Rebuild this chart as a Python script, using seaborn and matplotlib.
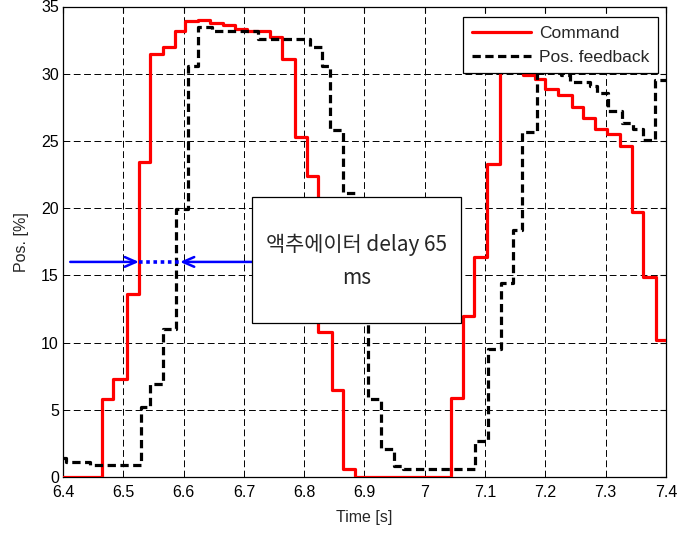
import matplotlib
matplotlib.use("Agg")
import matplotlib.pyplot as plt
import seaborn as sns
import pandas as pd
from matplotlib.patches import Rectangle

# ---- data ----
cmd_t = [6.400, 6.464, 6.483, 6.506, 6.526, 6.544, 6.566, 6.586, 6.603, 6.624,
         6.644, 6.666, 6.685, 6.705, 6.743, 6.763, 6.785, 6.804, 6.823, 6.846,
         6.864, 6.884, 7.043, 7.064, 7.082, 7.103, 7.124, 7.163, 7.183, 7.199,
         7.221, 7.244, 7.263, 7.282, 7.302, 7.324, 7.343, 7.362, 7.383, 7.400]
cmd_v = [0.0, 5.8, 7.3, 13.6, 23.4, 31.5, 32.0, 33.2, 33.9, 34.0,
         33.8, 33.6, 33.3, 33.2, 32.7, 31.1, 25.3, 22.4, 10.8, 6.5,
         0.57, 0.0, 5.85, 12.0, 16.4, 23.3, 31.5, 29.9, 29.6, 28.9,
         28.4, 27.5, 26.7, 25.9, 25.5, 24.6, 19.7, 14.9, 10.2, 10.2]

fb_t = [6.400, 6.405, 6.444, 6.530, 6.544, 6.566, 6.587, 6.608, 6.624, 6.647,
        6.724, 6.810, 6.829, 6.843, 6.864, 6.884, 6.906, 6.927, 6.949, 6.964,
        7.083, 7.105, 7.126, 7.147, 7.162, 7.186, 7.226, 7.241, 7.274, 7.285,
        7.304, 7.327, 7.346, 7.362, 7.382, 7.400]
fb_v = [1.4, 1.15, 0.9, 5.2, 6.9, 11.0, 19.9, 30.6, 33.5, 33.2,
        32.6, 32.0, 30.6, 25.8, 21.1, 16.0, 5.8, 2.1, 0.84, 0.57,
        2.7, 9.5, 14.4, 18.4, 25.7, 30.5, 29.9, 29.4, 29.1, 28.6,
        27.2, 26.3, 25.9, 25.1, 29.5, 29.5]

x_ticks = [6.4, 6.5, 6.6, 6.7, 6.8, 6.9, 7.0, 7.1, 7.2, 7.3, 7.4]
x_tick_labels = ["6.4", "6.5", "6.6", "6.7", "6.8", "6.9", "7", "7.1", "7.2", "7.3", "7.4"]
y_ticks = [0, 5, 10, 15, 20, 25, 30, 35]

# delay annotation values
arrow_level = 16.0
cmd_cross = 6.526
fb_cross = 6.594
arrow_left_start = 6.412
box_x0, box_x1 = 6.713, 7.060
box_y0, box_y1 = 11.45, 20.8
box_text1 = "액추에이터 delay 65"
box_text2 = "ms"

# ---- figure ----
sns.set_style("white")
plt.rcParams['font.family'] = ['Liberation Sans', 'DejaVu Sans']

fig = plt.figure(figsize=(6.88, 5.38), dpi=100)
ax = fig.add_axes([63/688, 1 - 477/538, 603/688, 470.5/538])

df_cmd = pd.DataFrame({"t": cmd_t, "v": cmd_v})
df_fb = pd.DataFrame({"t": fb_t, "v": fb_v})

sns.lineplot(data=df_cmd, x="t", y="v", ax=ax, color="#ff0000", lw=2.3,
             drawstyle="steps-post", label="Command", zorder=3)
sns.lineplot(data=df_fb, x="t", y="v", ax=ax, color="black", lw=2.3,
             linestyle=(0, (2.6, 1.4)), drawstyle="steps-post",
             label="Pos. feedback", zorder=4)

ax.set_xlim(6.4, 7.4)
ax.set_ylim(0, 35)
ax.set_xticks(x_ticks)
ax.set_xticklabels(x_tick_labels)
ax.set_yticks(y_ticks)
ax.tick_params(direction="in", length=4, width=0.8, labelsize=11.5,
               top=True, right=True, labelcolor="black", color="black")
ax.tick_params(axis="x", pad=6)
ax.tick_params(axis="y", pad=3)
for s in ax.spines.values():
    s.set_color("black")
    s.set_linewidth(0.9)

ax.grid(True, color="black", linestyle=(0, (7, 3.6)), linewidth=0.7)
ax.set_axisbelow(True)

ax.set_xlabel("Time [s]", fontsize=11.5, labelpad=7)
ax.set_ylabel("Pos. [%]", fontsize=11.5, labelpad=9)

# delay arrows
ax.annotate("", xy=(cmd_cross, arrow_level), xytext=(arrow_left_start, arrow_level),
            arrowprops=dict(arrowstyle="->,head_length=0.8,head_width=0.35",
                            color="#0000ff", lw=1.8, shrinkA=0, shrinkB=0), zorder=5)
ax.annotate("", xy=(fb_cross, arrow_level), xytext=(box_x0, arrow_level),
            arrowprops=dict(arrowstyle="->,head_length=0.8,head_width=0.35",
                            color="#0000ff", lw=1.8, shrinkA=0, shrinkB=0), zorder=5)
ax.plot([cmd_cross, fb_cross], [arrow_level, arrow_level], color="#0000ff",
        lw=2.6, linestyle=(0, (1, 1)), zorder=5)

# text box
ax.add_patch(Rectangle((box_x0, box_y0), box_x1 - box_x0, box_y1 - box_y0,
                       facecolor="white", edgecolor="black", lw=0.9, zorder=6))
xc = (box_x0 + box_x1) / 2
ax.text(xc, 17.25, box_text1, ha="center", va="center", fontsize=15,
        family=["Noto Sans CJK KR", "DejaVu Sans"], fontweight="light", zorder=7)
ax.text(xc, 14.8, box_text2, ha="center", va="center", fontsize=15,
        family=["Noto Sans CJK KR", "DejaVu Sans"], fontweight="light", zorder=7)

leg = ax.legend(loc="upper right", bbox_to_anchor=(595/603, 460/470.5),
                borderaxespad=0, fontsize=12.5, fancybox=False, framealpha=1,
                edgecolor="black", handlelength=3.4, borderpad=0.5,
                labelspacing=0.5, handletextpad=0.45)
leg.get_frame().set_linewidth(0.9)
leg.set_zorder(10)

fig.savefig("out.png", dpi=100)
